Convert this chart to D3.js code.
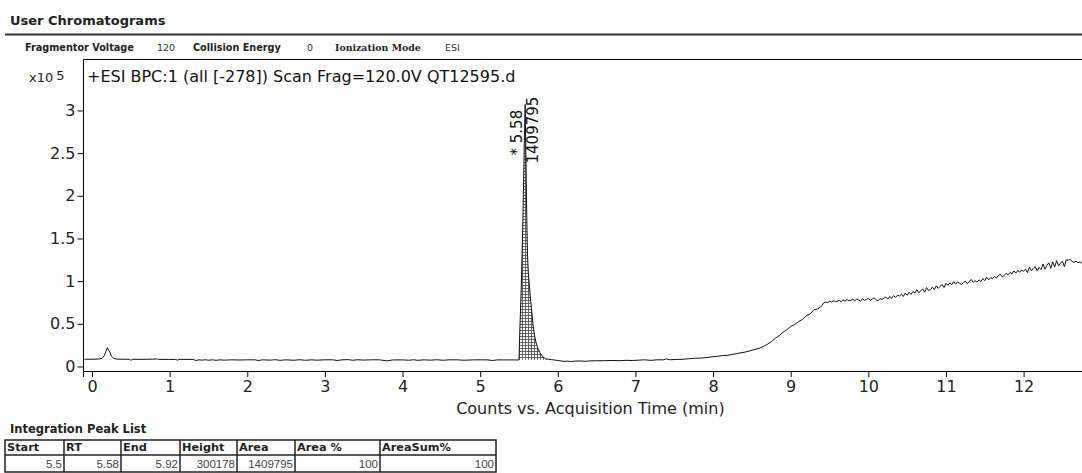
<!DOCTYPE html>
<html>
<head>
<meta charset="utf-8">
<script src="https://cdn.jsdelivr.net/npm/d3@7"></script>
<style>
  html, body { margin: 0; padding: 0; background: #fff; }
  svg { display: block; }
</style>
</head>
<body>
<svg id="chart" width="1082" height="473"></svg>
<script>
// ---------------- DATA ----------------
// Retention time (min)
const retentionTime = [
  -0.10, 0.00, 0.08, 0.13, 0.16, 0.19, 0.20, 0.21, 0.23, 0.25, 0.28, 0.32, 0.40, 0.48, 0.50, 0.52,
  0.70, 0.84, 0.86, 1.00, 1.08, 1.10, 1.12, 1.30, 1.34, 1.38, 1.42, 1.46, 1.50, 1.55, 1.60, 1.65,
  1.70, 1.80, 1.90, 2.00, 2.10, 2.14, 2.20, 2.30, 2.36, 2.42, 2.50, 2.60, 2.68, 2.75, 2.82, 2.90,
  3.00, 3.10, 3.16, 3.22, 3.30, 3.36, 3.42, 3.50, 3.60, 3.70, 3.80, 3.88, 4.00, 4.08, 4.14, 4.20,
  4.28, 4.36, 4.44, 4.52, 4.60, 4.70, 4.80, 4.90, 5.00, 5.10, 5.16, 5.22, 5.30, 5.40, 5.49,
  5.50, 5.51, 5.53, 5.55, 5.57, 5.58, 5.59, 5.60, 5.61, 5.62, 5.64, 5.66, 5.68, 5.70, 5.72, 5.74,
  5.77, 5.80, 5.84, 5.88, 5.92, 5.96, 6.00, 6.04, 6.08, 6.12, 6.16, 6.22, 6.30, 6.36, 6.42, 6.50,
  6.60, 6.70, 6.80, 6.88, 6.96, 7.04, 7.12, 7.20, 7.28, 7.36, 7.40, 7.44, 7.52, 7.60, 7.68, 7.76,
  7.84, 7.92, 8.00, 8.06, 8.12, 8.18, 8.24, 8.30, 8.36, 8.42, 8.48, 8.54, 8.60, 8.65, 8.70, 8.75,
  8.80, 8.85, 8.90, 8.95, 9.00, 9.05, 9.10, 9.15, 9.20, 9.25, 9.30, 9.35, 9.40,
  9.425, 9.450, 9.475, 9.500, 9.525, 9.550, 9.575, 9.600,
  9.625, 9.650, 9.675, 9.700, 9.725, 9.750, 9.775, 9.800,
  9.825, 9.850, 9.875, 9.900, 9.925, 9.950, 9.975, 10.000,
  10.025, 10.050, 10.075, 10.100, 10.125, 10.150, 10.175, 10.200,
  10.225, 10.250, 10.275, 10.300, 10.325, 10.350, 10.375, 10.400,
  10.425, 10.450, 10.475, 10.500, 10.525, 10.550, 10.575, 10.600,
  10.625, 10.650, 10.675, 10.700, 10.725, 10.750, 10.775, 10.800,
  10.825, 10.850, 10.875, 10.900, 10.925, 10.950, 10.975, 11.000,
  11.025, 11.050, 11.075, 11.100, 11.125, 11.150, 11.175, 11.200,
  11.225, 11.250, 11.275, 11.300, 11.325, 11.350, 11.375, 11.400,
  11.425, 11.450, 11.475, 11.500, 11.525, 11.550, 11.575, 11.600,
  11.625, 11.650, 11.675, 11.700, 11.725, 11.750, 11.775, 11.800,
  11.825, 11.850, 11.875, 11.900, 11.925, 11.950, 11.975, 12.000,
  12.025, 12.050, 12.075, 12.100, 12.125, 12.150, 12.175, 12.200,
  12.225, 12.250, 12.275, 12.300, 12.325, 12.350, 12.375, 12.400,
  12.425, 12.450, 12.475, 12.500, 12.525, 12.550, 12.575, 12.600,
  12.625, 12.650, 12.675, 12.700, 12.725, 12.750, 12.775
];
// Counts (x10^5)
const intensity = [
  0.085, 0.085, 0.087, 0.095, 0.13, 0.205, 0.22, 0.195, 0.17, 0.12, 0.095, 0.086, 0.085, 0.084, 0.072, 0.084,
  0.084, 0.088, 0.083, 0.083, 0.083, 0.072, 0.083, 0.083, 0.070, 0.078, 0.074, 0.079, 0.073, 0.078, 0.072, 0.078,
  0.074, 0.078, 0.076, 0.078, 0.078, 0.070, 0.078, 0.074, 0.080, 0.072, 0.078, 0.073, 0.079, 0.072, 0.078, 0.074,
  0.078, 0.078, 0.070, 0.078, 0.080, 0.073, 0.079, 0.075, 0.078, 0.078, 0.066, 0.077, 0.077, 0.073, 0.079, 0.072,
  0.078, 0.074, 0.079, 0.073, 0.078, 0.078, 0.073, 0.077, 0.078, 0.077, 0.070, 0.077, 0.077, 0.077, 0.076,
  0.080, 0.40, 0.95, 1.70, 2.70, 3.07, 2.40, 1.75, 1.30, 1.10, 0.88, 0.68, 0.50, 0.36, 0.28, 0.22,
  0.16, 0.12, 0.09, 0.085, 0.080, 0.075, 0.070, 0.065, 0.060, 0.062, 0.058, 0.063, 0.064, 0.060, 0.066, 0.067,
  0.068, 0.070, 0.068, 0.072, 0.070, 0.074, 0.078, 0.072, 0.078, 0.078, 0.088, 0.079, 0.082, 0.084, 0.090, 0.096,
  0.098, 0.105, 0.115, 0.120, 0.128, 0.130, 0.140, 0.150, 0.160, 0.170, 0.185, 0.200, 0.215, 0.235, 0.260, 0.290,
  0.33, 0.36, 0.40, 0.43, 0.47, 0.49, 0.525, 0.55, 0.595, 0.615, 0.665, 0.675, 0.71,
  0.745, 0.755, 0.750, 0.765, 0.755, 0.770, 0.760, 0.765,
  0.775, 0.760, 0.780, 0.765, 0.785, 0.770, 0.775, 0.790,
  0.770, 0.790, 0.780, 0.765, 0.795, 0.775, 0.785, 0.800,
  0.775, 0.790, 0.805, 0.780, 0.770, 0.795, 0.785, 0.800,
  0.815, 0.790, 0.820, 0.800, 0.830, 0.810, 0.835, 0.825,
  0.845, 0.820, 0.860, 0.835, 0.870, 0.845, 0.880, 0.860,
  0.900, 0.865, 0.885, 0.910, 0.870, 0.925, 0.890, 0.900,
  0.930, 0.900, 0.945, 0.915, 0.940, 0.960, 0.925, 0.975,
  0.950, 0.980, 0.960, 0.995, 0.965, 0.990, 0.975, 0.960,
  0.985, 1.000, 0.970, 0.995, 1.020, 0.985, 1.005, 0.990,
  1.015, 0.995, 1.030, 1.005, 1.045, 1.015, 1.040, 1.030,
  1.055, 1.035, 1.065, 1.080, 1.050, 1.070, 1.090, 1.075,
  1.100, 1.085, 1.120, 1.095, 1.125, 1.105, 1.130, 1.115,
  1.140, 1.100, 1.165, 1.120, 1.150, 1.170, 1.120, 1.160,
  1.135, 1.200, 1.140, 1.185, 1.215, 1.150, 1.225, 1.165,
  1.240, 1.180, 1.210, 1.235, 1.170, 1.250, 1.245, 1.255,
  1.230, 1.220, 1.235, 1.215, 1.225, 1.210, 1.225
];
const xTicks = [0, 1, 2, 3, 4, 5, 6, 7, 8, 9, 10, 11, 12];
const yTicks = [0, 0.5, 1, 1.5, 2, 2.5, 3];
const yTickLabels = ["0", "0.5", "1", "1.5", "2", "2.5", "3"];

const peakStart = 5.5, peakRT = 5.58, peakEnd = 5.92, peakApex = 3.07;
const peakLabelRT = "* 5.58";
const peakLabelArea = "1409795";

const headerLabels = ["Fragmentor Voltage", "Collision Energy", "Ionization Mode"];
const headerValues = ["120", "0", "ESI"];
const tableColumns = ["Start", "RT", "End", "Height", "Area", "Area %", "AreaSum%"];
const tableRow = ["5.5", "5.58", "5.92", "300178", "1409795", "100", "100"];

// ---------------- DRAW ----------------
const svg = d3.select("#chart");
const plot = { left: 83, right: 1082.3, top: 59, bottom: 371 };

const x = d3.scaleLinear().domain([-0.116, 12.756]).range([plot.left, plot.right]);
const y = d3.scaleLinear().domain([-0.053, 3.603]).range([plot.bottom, plot.top]);

const FONT = "'DejaVu Sans', Verdana, sans-serif";

// Page header
svg.append("text").attr("x", 10).attr("y", 25)
  .attr("font-family", FONT).attr("font-weight", "bold").attr("font-size", 13)
  .attr("fill", "#222").text("User Chromatograms");
svg.append("line").attr("x1", 5).attr("x2", 1082).attr("y1", 34.5).attr("y2", 34.5)
  .attr("stroke", "#333").attr("stroke-width", 2);

const hdrLabelX = [25, 193, 335];
const hdrValueX = [157, 307, 445];
headerLabels.forEach((l, i) => {
  svg.append("text").attr("x", hdrLabelX[i]).attr("y", 51)
    .attr("font-family", i === 2 ? "'DejaVu Serif', serif" : FONT)
    .attr("font-weight", "bold").attr("font-size", i === 2 ? 9.4 : 9.7)
    .attr("fill", "#222").text(l);
  svg.append("text").attr("x", hdrValueX[i]).attr("y", 51)
    .attr("font-family", FONT).attr("font-size", 9.5)
    .attr("fill", "#333").text(headerValues[i]);
});

// Clip
svg.append("defs").append("clipPath").attr("id", "clip")
  .append("rect").attr("x", plot.left).attr("y", plot.top)
  .attr("width", plot.right - plot.left).attr("height", plot.bottom - plot.top);

// Hatch pattern
const pat = svg.select("defs").append("pattern").attr("id", "hatch")
  .attr("patternUnits", "userSpaceOnUse").attr("width", 3).attr("height", 3);
pat.append("rect").attr("width", 3).attr("height", 3).attr("fill", "#fff");
pat.append("path").attr("d", "M0,0.5H3M0.5,0V3").attr("stroke", "#555").attr("stroke-width", 0.9);

const data = retentionTime.map((t, i) => ({ t, v: intensity[i] }));

// Integrated peak area
const inPeak = data.filter(d => d.t >= peakStart && d.t <= peakEnd);
const v0 = inPeak[0].v, v1 = inPeak[inPeak.length - 1].v;
const base = t => v0 + (v1 - v0) * (t - peakStart) / (peakEnd - peakStart);
svg.append("path").datum(inPeak)
  .attr("clip-path", "url(#clip)")
  .attr("fill", "url(#hatch)")
  .attr("d", d3.area().x(d => x(d.t)).y0(d => y(base(d.t))).y1(d => y(d.v)));

// Trace
svg.append("path").datum(data)
  .attr("clip-path", "url(#clip)")
  .attr("fill", "none").attr("stroke", "#111").attr("stroke-width", 1)
  .attr("d", d3.line().x(d => x(d.t)).y(d => y(d.v)));

// Frame: left and top
svg.append("path")
  .attr("d", `M${plot.left + 0.5},${plot.bottom}V${plot.top + 0.5}H${plot.right}`)
  .attr("fill", "none").attr("stroke", "#000").attr("stroke-width", 1);

// Axes
const xAxis = svg.append("g").attr("transform", `translate(0,${plot.bottom})`)
  .call(d3.axisBottom(x).tickValues(xTicks).tickFormat(d3.format("d")).tickSizeOuter(0).tickSize(6).tickPadding(4));
xAxis.select(".domain").attr("stroke", "#000");
xAxis.selectAll("text").attr("font-family", FONT).attr("font-size", 16).attr("fill", "#222");

const yAxis = svg.append("g").attr("transform", `translate(${plot.left + 0.5},0)`)
  .call(d3.axisLeft(y).tickValues(yTicks).tickFormat((d, i) => yTickLabels[i]).tickSizeOuter(0).tickSize(6).tickPadding(2));
yAxis.select(".domain").remove();
yAxis.selectAll("text").attr("font-family", FONT).attr("font-size", 16).attr("fill", "#222");

// Axis title
svg.append("text").attr("x", x(6.42)).attr("y", 414)
  .attr("text-anchor", "middle").attr("font-family", FONT).attr("font-size", 16)
  .attr("fill", "#222").text("Counts vs. Acquisition Time (min)");

// Exponent
const expT = svg.append("text").attr("x", 29).attr("y", 82)
  .attr("font-family", FONT).attr("font-size", 13).attr("fill", "#222");
expT.append("tspan").text("x10");
expT.append("tspan").attr("dx", 3).attr("dy", -2).attr("font-size", 13).text("5");

// Plot title
svg.append("text").attr("x", 87).attr("y", 82)
  .attr("font-family", FONT).attr("font-size", 16).attr("fill", "#111")
  .text("+ESI BPC:1 (all [-278]) Scan Frag=120.0V QT12595.d");

// Peak labels
svg.append("text")
  .attr("transform", `translate(${x(peakRT) - 3},${y(peakApex) + 51}) rotate(-90)`)
  .attr("font-family", FONT).attr("font-size", 15).attr("fill", "#111").text(peakLabelRT);
svg.append("text")
  .attr("transform", `translate(${x(peakRT) + 13},${y(peakApex) + 59}) rotate(-90)`)
  .attr("font-family", FONT).attr("font-size", 15).attr("fill", "#111").text(peakLabelArea);

// Integration table
svg.append("text").attr("x", 10).attr("y", 433)
  .attr("font-family", FONT).attr("font-weight", "bold").attr("font-size", 11.5)
  .attr("fill", "#222").text("Integration Peak List");

const colX = [5, 64, 121, 180, 237, 295, 380, 496];
const rowY = [440, 455, 472];
const tbl = svg.append("g");
tbl.append("rect").attr("x", colX[0]).attr("y", rowY[0])
  .attr("width", colX[7] - colX[0]).attr("height", rowY[2] - rowY[0])
  .attr("fill", "#fff").attr("stroke", "#222").attr("stroke-width", 1.5);
tbl.append("line").attr("x1", colX[0]).attr("x2", colX[7]).attr("y1", rowY[1]).attr("y2", rowY[1])
  .attr("stroke", "#222").attr("stroke-width", 1.5);
colX.slice(1, 7).forEach(cx => {
  tbl.append("line").attr("x1", cx).attr("x2", cx).attr("y1", rowY[0]).attr("y2", rowY[2])
    .attr("stroke", "#222").attr("stroke-width", 1.5);
});
tableColumns.forEach((c, i) => {
  tbl.append("text").attr("x", colX[i] + 2).attr("y", 451)
    .attr("font-family", FONT).attr("font-weight", "bold").attr("font-size", 11.3)
    .attr("fill", "#222").text(c);
  tbl.append("text").attr("x", colX[i + 1] - 2).attr("y", 468)
    .attr("text-anchor", "end")
    .attr("font-family", "'Liberation Sans', Arial, sans-serif").attr("font-size", 11.5)
    .attr("fill", "#444").text(tableRow[i]);
});
</script>
</body>
</html>
